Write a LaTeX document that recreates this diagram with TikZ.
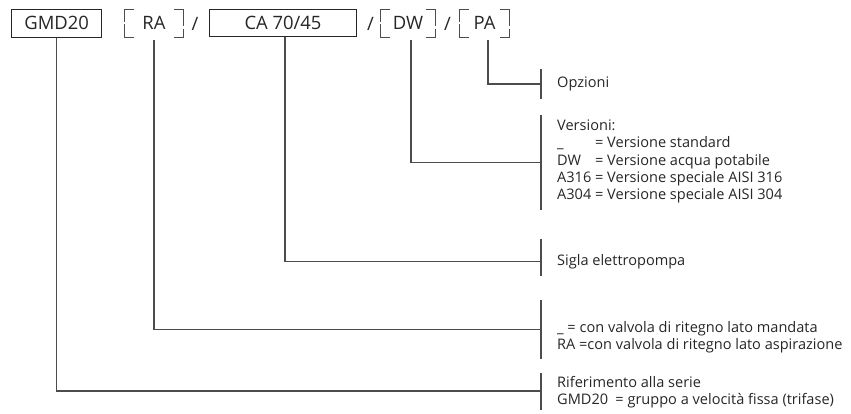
\documentclass[tikz,border=0pt]{standalone}
\usepackage{fontspec}
\setmainfont{Open Sans}
\usetikzlibrary{calc}

\begin{document}
\begin{tikzpicture}[
    x=1bp, y=-1bp,
    codebox/.style={rectangle, draw=black!85, line width=0.9bp, inner sep=0pt, text=black!85, font=\fontsize{18.5}{20}\selectfont},
    codebrk/.style={rectangle, inner sep=0pt, minimum height=27.5bp, text=black!85, font=\fontsize{18.5}{20}\selectfont},
    sepslash/.style={inner sep=0pt, text=black!85, font=\fontsize{18.5}{20}\selectfont},
    desc/.style={anchor=west, inner sep=0pt, align=left, text=black!85, font=\fontsize{14.6}{17.3}\selectfont},
    conn/.style={draw=black!70, line width=1.2bp},
    brk/.style={draw=black!70, line width=0.9bp},
]
    \useasboundingbox (0,0) rectangle (851,413);

    % code row
    \node[codebox, minimum width=90bp, minimum height=27.7bp] (gmd) at (56.7, 23.2) {GMD20};
    \node[codebrk, minimum width=58bp] (ra) at (154, 23) {RA};
    \node[sepslash] (sl1) at (195, 24) {/};
    \node[codebox, minimum width=147.4bp, minimum height=26.7bp] (ca) at (283, 22.7) {CA 70/45};
    \node[sepslash] (sl2) at (370.5, 24) {/};
    \node[codebrk, minimum width=54bp] (dw) at (408, 23) {DW};
    \node[sepslash] (sl3) at (447.5, 24) {/};
    \node[codebrk, minimum width=49bp] (pa) at (484.5, 23) {PA};

    % brackets round the optional parts
    \foreach \b in {ra, dw, pa} {
        \draw[brk] ($(\b.north west)+(9,0)$) -- (\b.north west) -- ($(\b.west)+(0,-1.5)$);
        \draw[brk] ($(\b.west)+(0,1.2)$) -- (\b.south west) -- ($(\b.south west)+(9,0)$);
        \draw[brk] ($(\b.north east)+(-9,0)$) -- (\b.north east) -- ($(\b.east)+(0,2.5)$);
        \draw[brk] ($(\b.east)+(0,5.5)$) -- (\b.south east) -- ($(\b.south east)+(-9,0)$);
    }

    % descriptions
    \node[desc] (opz) at (557, 84) {Opzioni};
    \node[desc] (vers) at (557, 161.5) {Versioni:\\
        \rlap{\_}\phantom{A316} = Versione standard\\
        \rlap{DW}\phantom{A316} = Versione acqua potabile\\
        A316 = Versione speciale AISI 316\\
        A304 = Versione speciale AISI 304};
    \node[desc] (sigla) at (557, 261.5) {Sigla elettropompa};
    \node[desc] (valv) at (557, 337) {\_ = con valvola di ritegno lato mandata\\
        RA =con valvola di ritegno lato aspirazione};
    \node[desc] (rif) at (557, 392) {Riferimento alla serie\\
        GMD20\enspace= gruppo a velocità fissa (trifase)};

    % tick marks
    \coordinate (tpa) at (541, 84);
    \coordinate (tdw) at (541, 162.7);
    \coordinate (tca) at (541, 261.7);
    \coordinate (tra) at (541, 329.3);
    \coordinate (tgmd) at (541, 391);
    \draw[conn] ($(tpa)+(0,-15)$) -- ($(tpa)+(0,15)$);
    \draw[conn] ($(tdw)+(0,-48)$) -- ($(tdw)+(0,47)$);
    \draw[conn] ($(tca)+(0,-22.5)$) -- ($(tca)+(0,14.5)$);
    \draw[conn] ($(tra)+(0,-29.5)$) -- ($(tra)+(0,29.5)$);
    \draw[conn] ($(tgmd)+(0,-18)$) -- ($(tgmd)+(0,19)$);

    % leader lines
    \draw[conn] ($(pa.south)+(3.5,3)$) |- (tpa);
    \draw[conn] ($(dw.south)+(3,3)$) |- (tdw);
    \draw[conn] ($(ca.south)+(2,0)$) |- (tca);
    \draw[conn] ($(ra.south)+(0,3)$) |- (tra);
    \draw[conn] (gmd.south) |- (tgmd);
\end{tikzpicture}
\end{document}
